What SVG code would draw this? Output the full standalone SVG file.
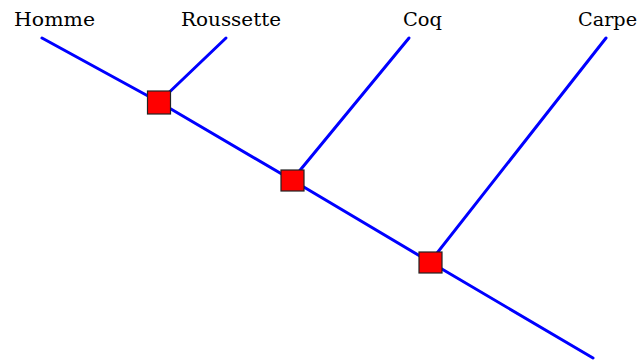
<svg xmlns="http://www.w3.org/2000/svg" width="638" height="361" viewBox="0 0 638 361">
<style>
.l{stroke:#0000ff;stroke-width:3;fill:none;stroke-linecap:round}
.n{fill:#ff0000;stroke:#222;stroke-width:1.2}
.t{font-family:"DejaVu Serif","Liberation Serif",serif;font-size:19px;fill:#000}
</style>
<rect width="638" height="361" fill="#fff"/>
<g id="connectors">
<polyline class="l" points="42,38 159,102 292,180 430,262 593,358"/>
<line class="l" x1="226" y1="38" x2="159" y2="102"/>
<line class="l" x1="409" y1="38" x2="292" y2="180"/>
<line class="l" x1="606" y1="38" x2="430" y2="262"/>
</g>
<g id="n1"><rect class="n" x="147.5" y="91" width="23" height="23"/></g>
<g id="n2"><rect class="n" x="281" y="170" width="23" height="21"/></g>
<g id="n3"><rect class="n" x="419" y="252" width="23" height="21"/></g>
<g id="homme"><text class="t" x="14" y="26" textLength="81" lengthAdjust="spacingAndGlyphs">Homme</text></g>
<g id="roussette"><text class="t" x="181" y="26" textLength="100" lengthAdjust="spacingAndGlyphs">Roussette</text></g>
<g id="coq"><text class="t" x="403" y="26" textLength="39" lengthAdjust="spacingAndGlyphs">Coq</text></g>
<g id="carpe"><text class="t" x="578" y="26" textLength="59" lengthAdjust="spacingAndGlyphs">Carpe</text></g>
</svg>
